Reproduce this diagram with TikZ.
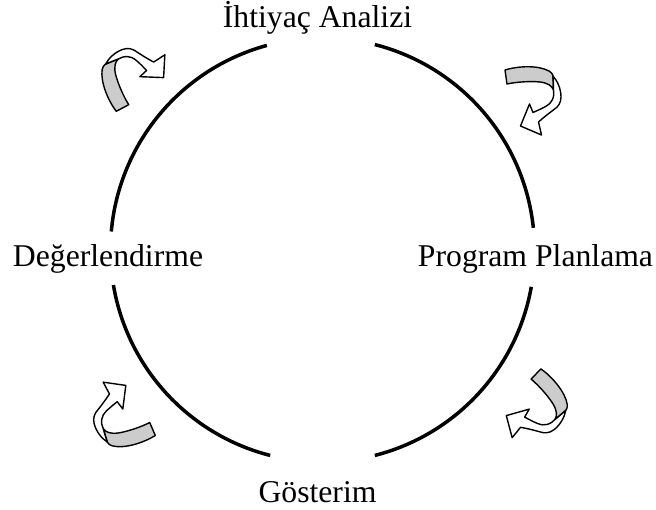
\documentclass[tikz,border=0pt]{standalone}
\usepackage{fontspec}
\setmainfont{Liberation Serif}
\begin{document}
\begin{tikzpicture}[x=1pt,y=-1pt,
  label/.style={anchor=base,inner sep=0pt,font=\fontsize{31.7}{38}\selectfont},
  ring/.style={line width=3.5pt},
  ribbon/.style={line width=1.4pt,line join=round},
  curlarrow/.pic={
    \begin{scope}[y=1pt]
      % back face of the ribbon (tail)
      \filldraw[ribbon,fill=ribbonback] (-1,7) .. controls (12,11) and (32,12) .. (43,6)
        .. controls (46,4) and (47,2) .. (47,1) -- (47.5,-13)
        .. controls (46,-9) and (42,-6) .. (34,-5)
        .. controls (24,-4) and (10,-5) .. (1,-7) -- cycle;
      % front face with the head
      \filldraw[ribbon,fill=white] (47,1)
        .. controls (51.5,-4) and (55,-12) .. (55,-20)
        .. controls (55,-26) and (52,-30) .. (48,-32.5)
        .. controls (44,-35.5) and (38,-40) .. (32.5,-45)
        -- (35.5,-58) -- (14.5,-49) -- (23.5,-27) -- (27,-35.5)
        .. controls (37,-31) and (44.5,-28) .. (46.5,-22.5)
        .. controls (48,-19) and (48,-16) .. (47.5,-13)
        .. controls (47.5,-8) and (47.3,-3) .. cycle;
    \end{scope}
  }]
\definecolor{ribbonback}{RGB}{204,204,204}
\useasboundingbox (0,0) rectangle (656,510);

% the cycle ring, broken where the stage names sit
\begin{scope}[shift={(322.5,250)},y=1pt]
  \draw[ring] (6:212) arc[start angle=6,end angle=75.7,radius=212];
  \draw[ring] (105.2:212) arc[start angle=105.2,end angle=175,radius=212];
  \draw[ring] (189.5:212) arc[start angle=189.5,end angle=255.7,radius=212];
  \draw[ring] (284.3:212) arc[start angle=284.3,end angle=350,radius=212];
\end{scope}

% stage names
\node[label] (needs) at (317.5,28) {İhtiyaç Analizi};
\node[label] (plan) at (535.5,267) {Program Planlama};
\node[label] (show) at (317.5,502) {Gösterim};
\node[label] (eval) at (108,267) {Değerlendirme};

% curled arrows showing the clockwise flow
\pic[rotate=0] at (506,77) {curlarrow};
\pic[rotate=-52] at (536,374) {curlarrow};
\pic[rotate=195] at (152.5,429) {curlarrow};
\pic[rotate=110] at (122.5,108) {curlarrow};
\end{tikzpicture}
\end{document}
